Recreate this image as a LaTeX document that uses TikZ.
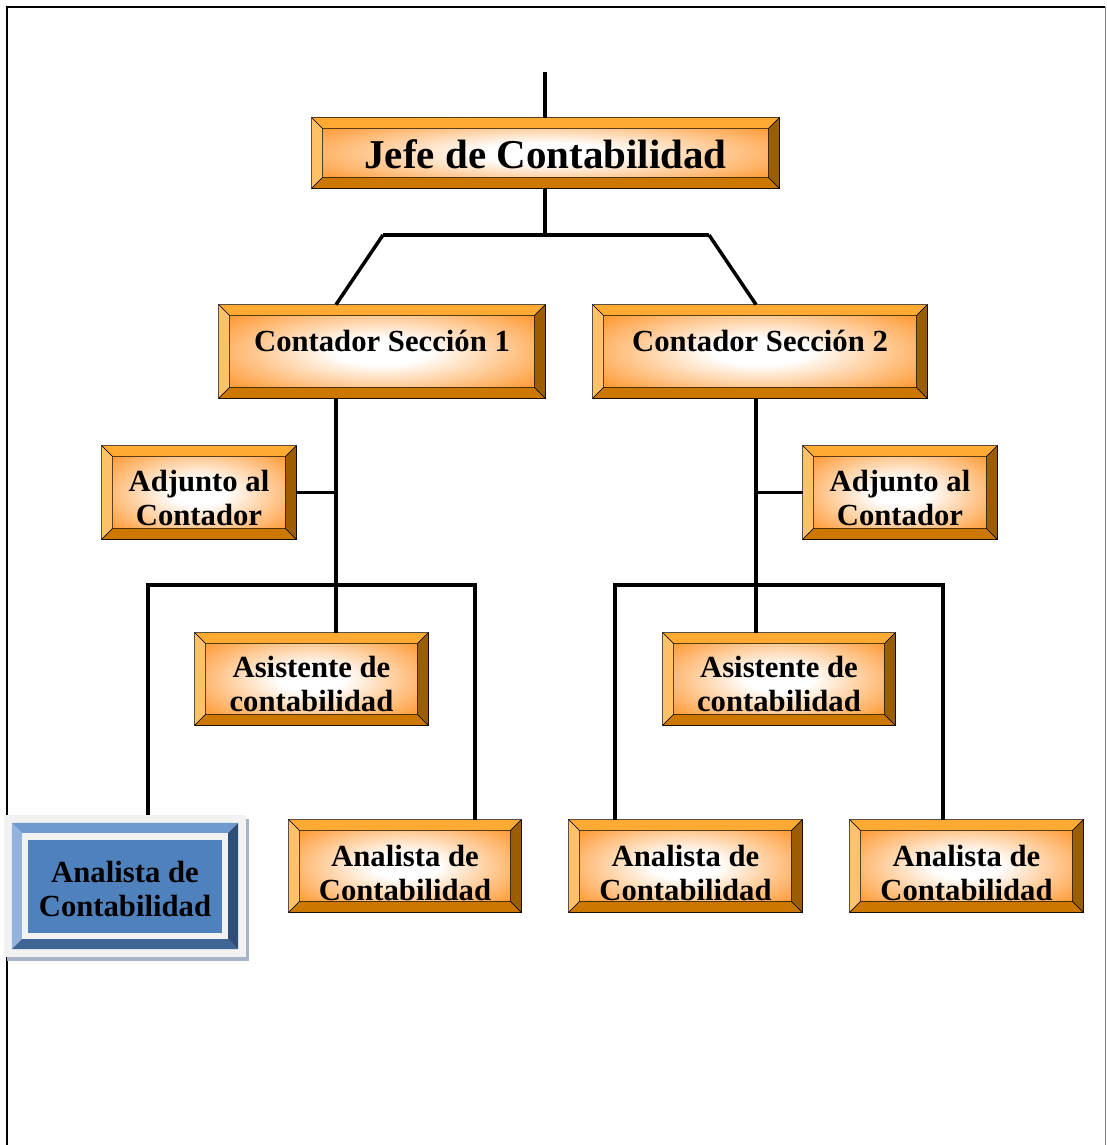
\documentclass[tikz,border=0pt]{standalone}
\usepackage{fontspec}
\setmainfont{Liberation Serif}
\usetikzlibrary{shadows}

\definecolor{boxface}{HTML}{FF9933}
\definecolor{bevtop}{HTML}{FFAA33}
\definecolor{bevleft}{HTML}{FFC266}
\definecolor{bevbottom}{HTML}{CC7700}
\definecolor{bevright}{HTML}{9A5E00}
\definecolor{blueface}{HTML}{4F81BD}
\definecolor{bluetop}{HTML}{6F9AD0}
\definecolor{blueleft}{HTML}{93B3DC}
\definecolor{bluebottom}{HTML}{3F6496}
\definecolor{blueright}{HTML}{2E4E78}
\definecolor{blueframe}{HTML}{F2F2F2}
\definecolor{shadowblue}{HTML}{A9B4C8}

\pgfdeclareradialshading{faceglow}{\pgfpoint{0bp}{0bp}}{%
  color(0bp)=(white); color(7bp)=(white); color(30bp)=(boxface); color(50bp)=(boxface)}

\newcommand{\bev}{11}
\newcommand{\lift}[1]{\rule{0pt}{#1}}

\begin{document}
\begin{tikzpicture}[x=1pt,y=-1pt,
  conn/.style={line width=3.5pt},
  orgbox/.style={draw, line width=0.8pt, inner sep=0pt, align=center,
    font=\bfseries\fontsize{30.7}{34}\selectfont, shading=faceglow},
  bevelfill/.style={draw, line width=0.6pt, fill=#1}]
  \useasboundingbox (0,0) rectangle (1107,1145);

  % page frame
  \draw[line width=2pt] (7,1145) -- (7,7) -- (1105,7);
  \draw[gray, line width=1pt] (1105,7) -- (1105,1145);

  % boxes
  \node (jefe) [orgbox, minimum width=467pt, minimum height=70pt,
    font=\bfseries\fontsize{41}{45}\selectfont] at (545.5,153) {\lift{32pt}Jefe de Contabilidad};
  \node (cs1) [orgbox, minimum width=326pt, minimum height=93pt, text depth=22pt] at (382,351.5) {Contador Sección 1};
  \node (cs2) [orgbox, minimum width=334pt, minimum height=93pt, text depth=22pt] at (760,351.5) {Contador Sección 2};
  \node (adj1) [orgbox, minimum width=194pt, minimum height=93pt] at (199,492.5) {\lift{32pt}Adjunto al\\Contador};
  \node (adj2) [orgbox, minimum width=194pt, minimum height=93pt] at (900,492.5) {\lift{32pt}Adjunto al\\Contador};
  \node (asi1) [orgbox, minimum width=233pt, minimum height=92pt] at (311.5,679) {\lift{32pt}Asistente de\\contabilidad};
  \node (asi2) [orgbox, minimum width=232pt, minimum height=92pt] at (779,679) {\lift{32pt}Asistente de\\contabilidad};
  \node (ana2) [orgbox, minimum width=232pt, minimum height=92pt] at (405,866) {\lift{36pt}Analista de\\Contabilidad};
  \node (ana3) [orgbox, minimum width=233pt, minimum height=92pt] at (685.5,866) {\lift{36pt}Analista de\\Contabilidad};
  \node (ana4) [orgbox, minimum width=233pt, minimum height=92pt] at (966.5,866) {\lift{36pt}Analista de\\Contabilidad};

  % the selected box
  \node (ana1) [fill=blueframe, inner sep=0pt, minimum width=242pt, minimum height=142pt,
    general shadow={fill=shadowblue, shadow xshift=3pt, shadow yshift=-4pt}] at (125,886) {};
  \fill[bluetop] ([shift={(8,8)}]ana1.north west) -- ([shift={(-8,8)}]ana1.north east)
    -- ([shift={(-18,18)}]ana1.north east) -- ([shift={(18,18)}]ana1.north west) -- cycle;
  \fill[blueleft] ([shift={(8,8)}]ana1.north west) -- ([shift={(8,-8)}]ana1.south west)
    -- ([shift={(18,-18)}]ana1.south west) -- ([shift={(18,18)}]ana1.north west) -- cycle;
  \fill[bluebottom] ([shift={(8,-8)}]ana1.south west) -- ([shift={(-8,-8)}]ana1.south east)
    -- ([shift={(-18,-18)}]ana1.south east) -- ([shift={(18,-18)}]ana1.south west) -- cycle;
  \fill[blueright] ([shift={(-8,8)}]ana1.north east) -- ([shift={(-8,-8)}]ana1.south east)
    -- ([shift={(-18,-18)}]ana1.south east) -- ([shift={(-18,18)}]ana1.north east) -- cycle;
  \node (ana1face) [fill=blueface, inner sep=0pt, minimum width=194pt, minimum height=93pt, align=center,
    font=\bfseries\fontsize{30.7}{34}\selectfont] at (125,886) {\lift{28pt}Analista de\\Contabilidad};

  % bevels
  \foreach \n in {jefe,cs1,cs2,adj1,adj2,asi1,asi2,ana2,ana3,ana4}{
    \filldraw[bevelfill=bevtop] (\n.north west) -- (\n.north east)
      -- ([shift={(-\bev,\bev)}]\n.north east) -- ([shift={(\bev,\bev)}]\n.north west) -- cycle;
    \filldraw[bevelfill=bevleft] (\n.north west) -- (\n.south west)
      -- ([shift={(\bev,-\bev)}]\n.south west) -- ([shift={(\bev,\bev)}]\n.north west) -- cycle;
    \filldraw[bevelfill=bevbottom] (\n.south west) -- (\n.south east)
      -- ([shift={(-\bev,-\bev)}]\n.south east) -- ([shift={(\bev,-\bev)}]\n.south west) -- cycle;
    \filldraw[bevelfill=bevright] (\n.north east) -- (\n.south east)
      -- ([shift={(-\bev,-\bev)}]\n.south east) -- ([shift={(-\bev,\bev)}]\n.north east) -- cycle;
  }

  % connectors
  \coordinate (top) at (545,72);
  \coordinate (hub) at (545,235);
  \coordinate (hubL) at (383,235);
  \coordinate (hubR) at (709,235);
  \coordinate (trunkL) at (336,585);
  \coordinate (trunkR) at (756,585);
  \coordinate (d1) at (148,585);
  \coordinate (d2) at (475,585);
  \coordinate (d3) at (615,585);
  \coordinate (d4) at (943,585);

  \draw[conn] (top) -- (top |- jefe.north);
  \draw[conn] (jefe.south -| hub) -- (hub);
  \draw[conn] (hubL) -- (hubR);
  \draw[conn] (hubL) -- (cs1.north -| trunkL);
  \draw[conn] (hubR) -- (cs2.north -| trunkR);
  \draw[conn] (cs1.south -| trunkL) -- (asi1.north -| trunkL);
  \draw[conn] (cs2.south -| trunkR) -- (asi2.north -| trunkR);
  \draw[conn] (adj1.east) -- (adj1.east -| trunkL);
  \draw[conn] (adj2.west) -- (adj2.west -| trunkR);
  \draw[conn] (ana1.north -| d1) -- (d1) -- (d2) -- (ana2.north -| d2);
  \draw[conn] (ana3.north -| d3) -- (d3) -- (d4) -- (ana4.north -| d4);
\end{tikzpicture}
\end{document}
